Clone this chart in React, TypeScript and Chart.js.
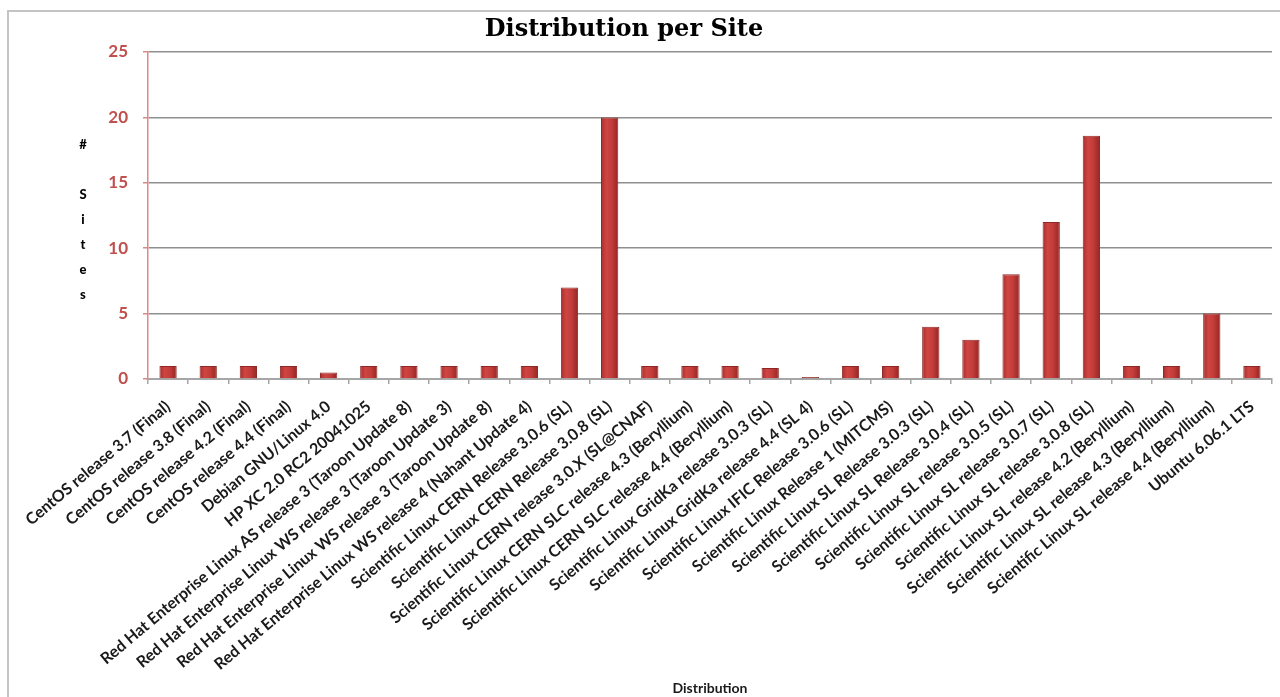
import React, { useEffect, useRef } from "react";
import { Chart, registerables } from "chart.js";

Chart.register(...registerables);

const categories: string[] = [
  "CentOS release 3.7 (Final)",
  "CentOS release 3.8 (Final)",
  "CentOS release 4.2 (Final)",
  "CentOS release 4.4 (Final)",
  "Debian GNU/Linux 4.0",
  "HP XC 2.0 RC2 20041025",
  "Red Hat Enterprise Linux AS release 3 (Taroon Update 8)",
  "Red Hat Enterprise Linux WS release 3 (Taroon Update 3)",
  "Red Hat Enterprise Linux WS release 3 (Taroon Update 8)",
  "Red Hat Enterprise Linux WS release 4 (Nahant Update 4)",
  "Scientific Linux CERN Release 3.0.6 (SL)",
  "Scientific Linux CERN Release 3.0.8 (SL)",
  "Scientific Linux CERN release 3.0.X (SL@CNAF)",
  "Scientific Linux CERN SLC release 4.3 (Beryllium)",
  "Scientific Linux CERN SLC release 4.4 (Beryllium)",
  "Scientific Linux GridKa release 3.0.3 (SL)",
  "Scientific Linux GridKa release 4.4 (SL 4)",
  "Scientific Linux IFIC Release 3.0.6 (SL)",
  "Scientific Linux Release 1 (MITCMS)",
  "Scientific Linux SL Release 3.0.3 (SL)",
  "Scientific Linux SL Release 3.0.4 (SL)",
  "Scientific Linux SL release 3.0.5 (SL)",
  "Scientific Linux SL release 3.0.7 (SL)",
  "Scientific Linux SL release 3.0.8 (SL)",
  "Scientific Linux SL release 4.2 (Beryllium)",
  "Scientific Linux SL release 4.3 (Beryllium)",
  "Scientific Linux SL release 4.4 (Beryllium)",
  "Ubuntu 6.06.1 LTS",
];

const sites: number[] = [
  1, 1, 1, 1, 0.5, 1, 1, 1, 1, 1, 7, 20, 1, 1, 1, 0.85, 0.15, 1, 1, 4, 3, 8, 12, 18.6, 1, 1, 5, 1,
];

const yTicks: number[] = [0, 5, 10, 15, 20, 25];
const chartTitle = "Distribution per Site";
const xTitle = "Distribution";
const yTitleLines: string[] = ["#", "", "S", "i", "t", "e", "s"];

const decorPlugin = {
  id: "decor",
  beforeDraw(chart: any) {
    const { ctx } = chart;
    ctx.save();
    ctx.fillStyle = "#ffffff";
    ctx.fillRect(0, 0, chart.width, chart.height);
    ctx.strokeStyle = "#c4c4c4";
    ctx.lineWidth = 2;
    ctx.strokeRect(8, 11, chart.width + 10, chart.height + 10);
    ctx.restore();
  },
  afterDraw(chart: any) {
    const { ctx, chartArea } = chart;
    ctx.save();
    ctx.fillStyle = "#000000";
    ctx.textAlign = "center";
    ctx.textBaseline = "middle";
    ctx.font = "bold 24px 'DejaVu Serif'";
    ctx.fillText(chartTitle, 624, 30);
    ctx.font = "900 13px Lato";
    const mid = (chartArea.top + chartArea.bottom) / 2 + 4;
    const step = 25;
    const start = mid - ((yTitleLines.length - 1) * step) / 2;
    yTitleLines.forEach((t, i) => {
      if (t) ctx.fillText(t, 83, start + i * step);
    });
    ctx.restore();
  },
};

function barFill(context: any) {
  const chart = context.chart;
  const xs = chart.scales && chart.scales.x;
  if (!xs || !chart.chartArea || context.dataIndex === undefined) return "#C43F3C";
  const cx = xs.getPixelForValue(context.dataIndex);
  const w = 17;
  const g = chart.ctx.createLinearGradient(cx - w / 2, 0, cx + w / 2, 0);
  g.addColorStop(0, "#A82E2C");
  g.addColorStop(0.3, "#CF4542");
  g.addColorStop(0.6, "#C33D3A");
  g.addColorStop(1, "#962523");
  return g;
}

export default function App() {
  const canvasRef = useRef<HTMLCanvasElement | null>(null);

  useEffect(() => {
    if (!canvasRef.current) return;
    const chart = new Chart(canvasRef.current, {
      type: "bar",
      data: {
        labels: categories,
        datasets: [
          {
            label: "# Sites",
            data: sites,
            backgroundColor: barFill,
            borderColor: "#8E2826",
            borderWidth: 1,
            barPercentage: 0.43,
            categoryPercentage: 1,
          },
        ],
      },
      options: {
        animation: false,
        responsive: false,
        maintainAspectRatio: false,
        layout: { padding: { top: 52, left: 8, right: 8, bottom: 0 } },
        plugins: {
          legend: { display: false },
          title: { display: false },
          tooltip: { enabled: false },
        },
        scales: {
          x: {
            offset: true,
            grid: {
              offset: true,
              drawOnChartArea: false,
              drawTicks: true,
              tickLength: 5,
              color: "#a6a6a6",
              tickColor: "#a6a6a6",
              lineWidth: 1.5,
            },
            border: { color: "#a6a6a6", width: 2 },
            ticks: {
              autoSkip: false,
              minRotation: 40,
              maxRotation: 40,
              padding: 13,
              color: "#1a1a1a",
              font: { family: "Lato", weight: "bold", size: 16 },
            },
            title: {
              display: true,
              text: xTitle,
              color: "#1a1a1a",
              font: { family: "Lato", weight: "bold", size: 14 },
              padding: { top: 0, bottom: 0 },
            },
            afterFit(scale: any) {
              scale.height = 318;
            },
          },
          y: {
            min: 0,
            max: 25,
            afterBuildTicks(scale: any) {
              scale.ticks = yTicks.map((v) => ({ value: v }));
            },
            grid: {
              color: "#8f8f8f",
              lineWidth: 1.5,
              tickLength: 5,
              tickColor: "#d98886",
            },
            border: { color: "#dc8a88", width: 1.5 },
            ticks: {
              padding: 15,
              color: "#C0504D",
              font: { family: "Lato", weight: "bold", size: 17 },
            },
            afterFit(scale: any) {
              scale.width = 140;
            },
          },
        },
      },
      plugins: [decorPlugin],
    });
    return () => chart.destroy();
  }, []);

  return (
    <div style={{ position: "fixed", left: 0, top: 0, width: 1280, height: 697, background: "#fff" }}>
      <canvas ref={canvasRef} width={1280} height={697} style={{ display: "block" }} />
    </div>
  );
}
